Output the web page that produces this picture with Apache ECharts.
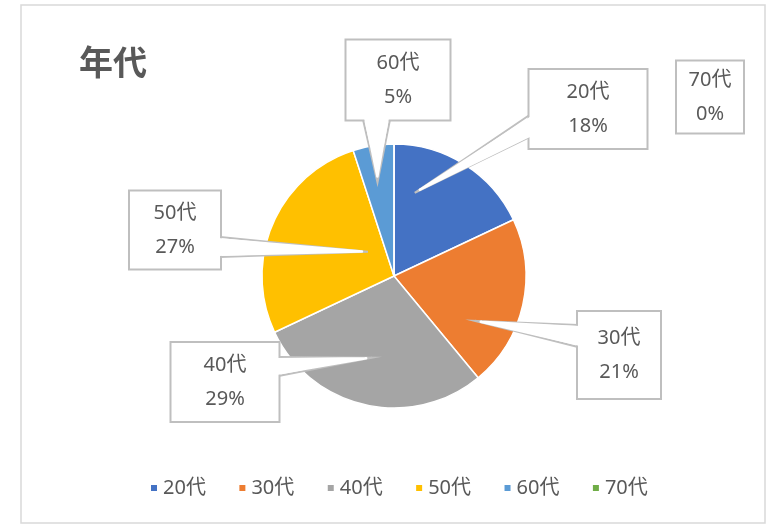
<!DOCTYPE html>
<html><head><meta charset="utf-8">
<script src="https://cdn.jsdelivr.net/npm/echarts@6/dist/echarts.min.js"></script>
<style>html,body{margin:0;padding:0;background:#fff}#c{width:769px;height:525px}</style>
</head><body><div id="c"></div>
<script>
// ---- data ----
const titleText = '年代';
const categories = ['20代', '30代', '40代', '50代', '60代', '70代'];
const values = [18, 21, 29, 27, 5, 0];
const colors = ['#4472C4', '#ED7D31', '#A5A5A5', '#FFC000', '#5B9BD5', '#70AD47'];

// ---- layout (callout boxes; not data) ----
const PIE_CENTER = [394, 276];
const PIE_RADIUS = 132;
const calloutBox = [ // cx, cy, w, h
  [588, 109, 117, 78],
  [619, 355, 82, 86],
  [225, 382, 107, 78],
  [175, 230, 90, 77],
  [398, 80, 103, 79],
  [710, 97, 66, 68]
];
const calloutWedge = [ // side, base start, base end, tip angle (deg, clockwise from 12 o'clock), tip radius fraction
  ['left', 115, 137, 14, 0.65],
  ['left', 325, 347, 119, 0.70],
  ['right', 357, 376, 195, 0.64],
  ['right', 237, 257, 313, 0.27],
  ['bottom', 363, 390, 350, 0.72],
  null
];

const FONT = "'Noto Sans','Noto Sans CJK JP',sans-serif";
const TEXT_COLOR = '#595959';
const LINE_H = 34;

const chart = echarts.init(document.getElementById('c'), null, {renderer: 'canvas'});

function wedgeGeom(i) {
  const [cx, cy, w, h] = calloutBox[i];
  const wd = calloutWedge[i];
  if (!wd) return null;
  const a = wd[3] * Math.PI / 180, r = wd[4] * PIE_RADIUS;
  const tip = [PIE_CENTER[0] + r * Math.sin(a), PIE_CENTER[1] - r * Math.cos(a)];
  let p1, p2, out;
  if (wd[0] === 'left') { p1 = [cx - w / 2, wd[1]]; p2 = [cx - w / 2, wd[2]]; out = [1, 0]; }
  else if (wd[0] === 'right') { p1 = [cx + w / 2, wd[1]]; p2 = [cx + w / 2, wd[2]]; out = [-1, 0]; }
  else { p1 = [wd[1], cy + h / 2]; p2 = [wd[2], cy + h / 2]; out = [0, -1]; }
  return {tip, p1, p2, out};
}

function makeLayout(fill) {
  return function (params) {
    const i = params.dataIndex;
    const [cx, cy] = calloutBox[i];
    const res = {x: cx, y: cy, align: 'center', verticalAlign: 'middle'};
    const g = wedgeGeom(i);
    if (g) {
      if (!fill) {
        res.labelLinePoints = [g.p1, g.tip, g.p2];
      } else {
        // zig-zag between the tip and the base to paint the wedge white
        const inset = 2.2;
        const bx = g.p2[0] - g.p1[0], by = g.p2[1] - g.p1[1];
        const bl = Math.hypot(bx, by);
        const ux = bx / bl, uy = by / bl;
        const a1 = [g.p1[0] + ux * inset + g.out[0] * 2, g.p1[1] + uy * inset + g.out[1] * 2];
        const a2 = [g.p2[0] - ux * inset + g.out[0] * 2, g.p2[1] - uy * inset + g.out[1] * 2];
        const mid = [(g.p1[0] + g.p2[0]) / 2, (g.p1[1] + g.p2[1]) / 2];
        const dl = Math.hypot(mid[0] - g.tip[0], mid[1] - g.tip[1]);
        const t0 = 6 / dl;
        const tip = [g.tip[0] + (mid[0] - g.tip[0]) * t0, g.tip[1] + (mid[1] - g.tip[1]) * t0];
        const pts = [tip];
        const n = 16;
        for (let k = 0; k <= n; k++) {
          const t = k / n;
          pts.push([a1[0] + (a2[0] - a1[0]) * t, a1[1] + (a2[1] - a1[1]) * t]);
          pts.push(tip);
        }
        res.labelLinePoints = pts;
      }
    }
    return res;
  };
}

const pieData = categories.map((name, i) => ({
  name: name,
  value: values[i],
  itemStyle: {color: colors[i]}
}));

const calloutData = categories.map((name, i) => {
  const [cx, cy, w, h] = calloutBox[i];
  const pt = Math.max(0, (h - 2 * LINE_H) / 2 + 3);
  const pb = Math.max(0, h - 2 * LINE_H - pt);
  return {
    name: name,
    value: values[i],
    label: {width: w, padding: [pt, 0, pb, 0]},
    labelLine: {show: !!calloutWedge[i]}
  };
});

function calloutSeries(fill, z) {
  return {
    name: fill ? 'calloutFill' : 'callouts',
    type: 'pie',
    z: z,
    center: PIE_CENTER,
    radius: PIE_RADIUS,
    startAngle: 90,
    clockwise: true,
    silent: true,
    legendHoverLink: false,
    avoidLabelOverlap: false,
    itemStyle: {color: 'rgba(0,0,0,0)', borderWidth: 0},
    label: {
      show: true,
      position: 'outside',
      formatter: p => p.name + '\n' + Math.round(p.percent) + '%',
      fontFamily: FONT, fontSize: 20, lineHeight: LINE_H,
      color: fill ? 'rgba(0,0,0,0)' : TEXT_COLOR,
      align: 'center',
      backgroundColor: fill ? 'transparent' : '#fff',
      borderColor: fill ? 'transparent' : '#bfbfbf',
      borderWidth: fill ? 0 : 2
    },
    labelLine: {show: true, length: 10, length2: 10, smooth: false,
      lineStyle: fill ? {color: '#ffffff', width: 2.5, join: 'round'} : {color: '#bfbfbf', width: 2}},
    labelLayout: makeLayout(fill),
    data: calloutData
  };
}

const option = {
  animation: false,
  backgroundColor: '#fff',
  color: colors,
  graphic: [{
    type: 'rect', z: -10, silent: true,
    shape: {x: 21, y: 5, width: 744, height: 518},
    style: {fill: '#fff', stroke: '#d9d9d9', lineWidth: 1.5}
  }],
  title: {
    text: titleText, left: 79, top: 42, padding: 0,
    textStyle: {fontFamily: "'Noto Sans CJK JP',sans-serif", fontSize: 34, lineHeight: 40, fontWeight: 'bold', color: TEXT_COLOR}
  },
  legend: {
    data: categories,
    left: 149, top: 476, padding: 0,
    icon: 'rect', itemWidth: 8, itemHeight: 8, itemGap: 31.5,
    textStyle: {fontFamily: FONT, fontSize: 20, lineHeight: 24, color: TEXT_COLOR},
    selectedMode: false
  },
  series: [{
    name: 'pie',
    type: 'pie',
    z: 2,
    center: PIE_CENTER,
    radius: PIE_RADIUS,
    startAngle: 90,
    clockwise: true,
    silent: true,
    itemStyle: {borderColor: '#fff', borderWidth: 1.5},
    label: {show: false},
    labelLine: {show: false},
    data: pieData
  }, calloutSeries(false, 4), calloutSeries(true, 6)]
};
chart.setOption(option);
</script>
</body></html>
